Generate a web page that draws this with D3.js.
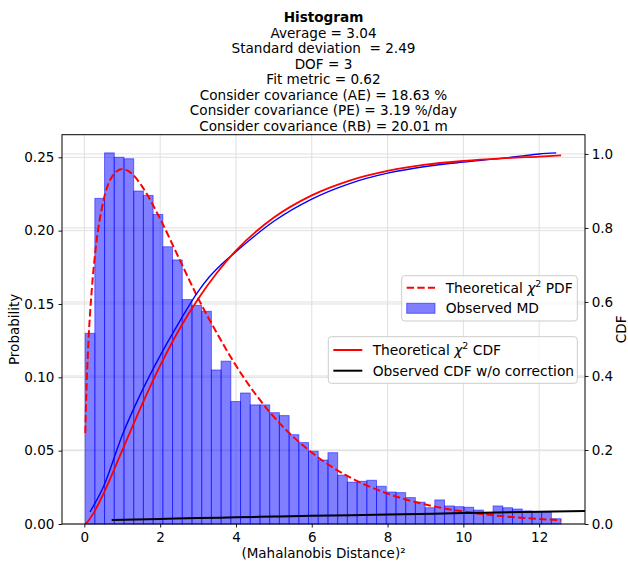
<!DOCTYPE html>
<html>
<head>
<meta charset="utf-8">
<script src="https://cdn.jsdelivr.net/npm/d3@7"></script>
<style>
  body { margin: 0; background: #fff; }
  svg { font-family: "DejaVu Sans", sans-serif; }
  text { white-space: pre; }
</style>
</head>
<body>
<svg width="628" height="563"></svg>
<script>
// histogram (probability density per bin), bins start at data min
const binStart = 0.02;
const binWidth = 0.2563;
const probValues = [0.130, 0.222, 0.253, 0.250, 0.249, 0.227, 0.224, 0.211, 0.189, 0.180,
    0.153, 0.149, 0.145, 0.105, 0.111, 0.0835, 0.0893, 0.0812, 0.0812, 0.0759,
    0.0739, 0.0609, 0.0555, 0.0496, 0.0436, 0.0486, 0.0333, 0.0285, 0.0291, 0.0298,
    0.0257, 0.0218, 0.0214, 0.0180, 0.0149, 0.0111, 0.0164, 0.0123, 0.0118, 0.0114,
    0.0095, 0.0077, 0.0123, 0.0111, 0.0102, 0.0089, 0.0080, 0.0080, 0.0036];

// theoretical chi2 pdf
const pdfX = [0.025, 0.05, 0.1, 0.2, 0.3, 0.5, 0.75, 1, 1.25, 1.5, 2, 2.5, 3, 3.5, 4, 5, 6, 7, 8, 9, 10, 11, 12, 12.58];
const pdfY = [0.062, 0.087, 0.120, 0.161, 0.188, 0.220, 0.2375, 0.242, 0.239, 0.231, 0.208, 0.181, 0.154, 0.130, 0.108, 0.073, 0.0487, 0.0319, 0.0207, 0.0133, 0.0085, 0.0054, 0.0034, 0.0026];

// theoretical chi2 cdf (red solid)
const cdfX = [0.025, 0.1, 0.25, 0.5, 1, 1.5, 2, 2.5, 3, 3.5, 4, 5, 6, 7, 8, 9, 10, 11, 12, 12.58];
const cdfY = [0.0005, 0.008, 0.031, 0.081, 0.199, 0.318, 0.428, 0.525, 0.608, 0.679, 0.739, 0.828, 0.888, 0.928, 0.954, 0.971, 0.981, 0.988, 0.993, 0.996];

// observed cdf (blue, not in legend)
const obsX = [0.15, 0.5, 1.0, 1.5, 2.0, 2.5, 3.0, 3.3, 3.6, 4.0, 4.5, 5, 6, 7, 8, 9, 10, 11, 11.5, 12, 12.45];
const obsY = [0.033, 0.10, 0.24, 0.355, 0.455, 0.545, 0.628, 0.668, 0.700, 0.736, 0.779, 0.818, 0.878, 0.920, 0.948, 0.966, 0.978, 0.988, 0.994, 1.000, 1.003];

// observed cdf w/o correction (black)
const rawX = [0.72, 2, 3, 4, 5, 6, 8, 10, 12, 14];
const rawY = [0.0105, 0.0135, 0.016, 0.018, 0.020, 0.022, 0.0255, 0.0295, 0.033, 0.037];

const xTicks = [0, 2, 4, 6, 8, 10, 12];
const probTicks = [0, 0.05, 0.10, 0.15, 0.20, 0.25];
const cdfTicks = [0, 0.2, 0.4, 0.6, 0.8, 1.0];

const titleLines = [
    "Histogram",
    "Average = 3.04",
    "Standard deviation  = 2.49",
    "DOF = 3",
    "Fit metric = 0.62",
    "Consider covariance (AE) = 18.63 %",
    "Consider covariance (PE) = 3.19 %/day",
    "Consider covariance (RB) = 20.01 m"
];

const margens = { left: 62, right: 43, top: 134.7, bottom: 39 };
const svg = d3.select('svg');
const W = 628, H = 563;
const innerWidth = W - margens.left - margens.right;
const innerHeight = H - margens.top - margens.bottom;

const x = d3.scaleLinear().domain([-0.59, 13.21]).range([0, innerWidth]);
const yL = d3.scaleLinear().domain([0, 0.2654]).range([innerHeight, 0]);
const yR = d3.scaleLinear().domain([0, 1.052]).range([innerHeight, 0]);

const g = svg.append('g')
    .attr('transform', `translate(${margens.left}, ${margens.top})`);

svg.append('defs').append('clipPath').attr('id', 'clip')
    .append('rect').attr('width', innerWidth).attr('height', innerHeight);

// grid
const grid = g.append('g').attr('stroke', '#e0e0e0').attr('stroke-width', 1);
grid.selectAll('.gx').data(xTicks).join('line')
    .attr('x1', d => x(d)).attr('x2', d => x(d))
    .attr('y1', 0).attr('y2', innerHeight);
grid.selectAll('.gy').data(probTicks).join('line')
    .attr('x1', 0).attr('x2', innerWidth)
    .attr('y1', d => yL(d)).attr('y2', d => yL(d));
grid.selectAll('.gr').data(cdfTicks).join('line')
    .attr('x1', 0).attr('x2', innerWidth)
    .attr('y1', d => yR(d)).attr('y2', d => yR(d));

// bars
g.append('g').selectAll('rect')
    .data(probValues)
    .join('rect')
        .attr('x', (d, i) => x(binStart + i * binWidth))
        .attr('width', x(binWidth) - x(0))
        .attr('y', d => yL(d))
        .attr('height', d => yL(0) - yL(d))
        .attr('fill', 'rgba(0,0,255,0.5)')
        .attr('stroke', 'rgba(0,0,255,0.5)')
        .attr('stroke-width', 1);

const lines = g.append('g').attr('clip-path', 'url(#clip)');

const pdfLine = d3.line().x(d => x(d[0])).y(d => yL(d[1])).curve(d3.curveMonotoneX);
const cdfLine = d3.line().x(d => x(d[0])).y(d => yR(d[1])).curve(d3.curveMonotoneX);

lines.append('path')
    .attr('d', pdfLine(d3.zip(pdfX, pdfY)))
    .attr('fill', 'none').attr('stroke', 'red').attr('stroke-width', 2)
    .attr('stroke-dasharray', '7.4,3.2');

lines.append('path')
    .attr('d', cdfLine(d3.zip(obsX, obsY)))
    .attr('fill', 'none').attr('stroke', 'blue').attr('stroke-width', 1.4);

lines.append('path')
    .attr('d', cdfLine(d3.zip(cdfX, cdfY)))
    .attr('fill', 'none').attr('stroke', 'red').attr('stroke-width', 1.8);

lines.append('path')
    .attr('d', cdfLine(d3.zip(rawX, rawY)))
    .attr('fill', 'none').attr('stroke', 'black').attr('stroke-width', 2);

// axes
const axisX = g.append('g')
    .attr('transform', `translate(0,${innerHeight})`)
    .call(d3.axisBottom(x).tickValues(xTicks).tickFormat(d3.format('d')).tickSize(3.5).tickPadding(4.5));
const axisL = g.append('g')
    .call(d3.axisLeft(yL).tickValues(probTicks).tickFormat(d3.format('.2f')).tickSize(3.5).tickPadding(4.2));
const axisR = g.append('g')
    .attr('transform', `translate(${innerWidth},0)`)
    .call(d3.axisRight(yR).tickValues(cdfTicks).tickFormat(d3.format('.1f')).tickSize(3.5).tickPadding(3.2));

[axisX, axisL, axisR].forEach(a => {
    a.select('.domain').remove();
    a.attr('font-size', null).attr('font-family', null);
    a.selectAll('text').attr('font-size', '13.5px').attr('fill', '#000');
    a.selectAll('line').attr('stroke', '#000').attr('stroke-width', 0.9);
});

g.append('rect')
    .attr('width', innerWidth).attr('height', innerHeight)
    .attr('fill', 'none').attr('stroke', '#000').attr('stroke-width', 1);

// legends
function chiLabel(sel, kind) {
    sel.append('tspan').text('Theoretical ');
    sel.append('tspan').attr('font-style', 'italic').text('χ');
    sel.append('tspan').attr('font-size', '9.5px').attr('dy', -5.5).text('2');
    sel.append('tspan').attr('dy', 5.5).text(' ' + kind);
}

const leg1 = svg.append('g').attr('font-size', '13.8px');
leg1.append('rect')
    .attr('x', 401.7).attr('y', 275.7).attr('width', 175.6).attr('height', 45.3).attr('rx', 3)
    .attr('fill', 'rgba(255,255,255,0.8)').attr('stroke', '#cccccc');
leg1.append('line')
    .attr('x1', 406.7).attr('x2', 435).attr('y1', 287.7).attr('y2', 287.7)
    .attr('stroke', 'red').attr('stroke-width', 2).attr('stroke-dasharray', '7.4,3.2');
leg1.append('text').attr('x', 445.7).attr('y', 292.6).call(chiLabel, 'PDF');
leg1.append('rect')
    .attr('x', 406.7).attr('y', 303.3).attr('width', 28.3).attr('height', 10)
    .attr('fill', 'rgba(0,0,255,0.5)').attr('stroke', 'rgba(0,0,255,0.5)');
leg1.append('text').attr('x', 445.7).attr('y', 313.2).text('Observed MD');

const leg2 = svg.append('g').attr('font-size', '13.8px');
leg2.append('rect')
    .attr('x', 328.3).attr('y', 336.7).attr('width', 249).attr('height', 46.6).attr('rx', 3)
    .attr('fill', 'rgba(255,255,255,0.8)').attr('stroke', '#cccccc');
leg2.append('line')
    .attr('x1', 333.3).attr('x2', 362.3).attr('y1', 350).attr('y2', 350)
    .attr('stroke', 'red').attr('stroke-width', 2);
leg2.append('text').attr('x', 372.7).attr('y', 354.9).call(chiLabel, 'CDF');
leg2.append('line')
    .attr('x1', 333.3).attr('x2', 362.3).attr('y1', 370.7).attr('y2', 370.7)
    .attr('stroke', 'black').attr('stroke-width', 2);
leg2.append('text').attr('x', 372.7).attr('y', 375.6).text('Observed CDF w/o correction');

// titles and labels
const cx = margens.left + innerWidth / 2;
svg.append('g').selectAll('text')
    .data(titleLines)
    .join('text')
        .attr('x', cx)
        .attr('y', (d, i) => 22 + i * 15.57)
        .attr('text-anchor', 'middle')
        .attr('font-size', '13.6px')
        .attr('font-weight', (d, i) => i === 0 ? 'bold' : 'normal')
        .text(d => d);

svg.append('text')
    .attr('transform', `translate(14, ${margens.top + innerHeight / 2}) rotate(-90)`)
    .attr('text-anchor', 'middle').attr('dy', '0.35em').attr('font-size', '13.5px')
    .text('Probability');

svg.append('text')
    .attr('transform', `translate(621, ${margens.top + innerHeight / 2}) rotate(-90)`)
    .attr('text-anchor', 'middle').attr('dy', '0.35em').attr('font-size', '13.5px')
    .text('CDF');

svg.append('text')
    .attr('x', cx).attr('y', 558)
    .attr('text-anchor', 'middle').attr('font-size', '13.5px')
    .text('(Mahalanobis Distance)²');
</script>
</body>
</html>
